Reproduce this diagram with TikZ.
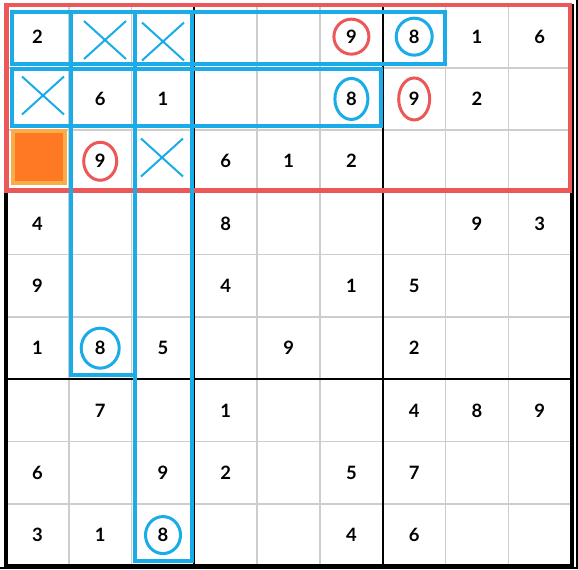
\documentclass[tikz,border=0pt]{standalone}
\usepackage{fontspec}
\setmainfont{Lato}
\usetikzlibrary{shapes.geometric,shapes.misc}
\definecolor{gridgray}{RGB}{205,205,205}
\definecolor{markblue}{RGB}{26,172,232}
\definecolor{boxred}{RGB}{236,88,88}
\definecolor{orangefill}{RGB}{255,120,35}
\definecolor{orangeedge}{RGB}{250,172,72}
\begin{document}
\begin{tikzpicture}[x=0.5pt,y=-0.5pt,
  digit/.style={font=\fontsize{9.2}{10}\selectfont\bfseries, inner sep=0pt},
  ring/.style={digit, ellipse, line width=1.5pt},
  redring/.style={ring, draw=boxred},
  bluering/.style={ring, draw=markblue},
  xmark/.style={cross out, draw=markblue, line width=1pt, minimum width=20pt, minimum height=18pt, inner sep=0pt},
  bluebox/.style={draw=markblue, line width=2pt},
  thin grid/.style={draw=gridgray, line width=0.75pt},
  box grid/.style={draw=black, line width=1pt},
  ]
\useasboundingbox (0,0) rectangle (578,569);
\fill[white] (0,0) rectangle (578,569);
% grid
\foreach \i in {1,2,4,5,7,8} {
  \draw[thin grid] ({6+\i*62.8},5.5) -- ({6+\i*62.8},566);
  \draw[thin grid] (6,{5.5+\i*62.3}) -- (572,{5.5+\i*62.3});
}
\foreach \i in {3,6} {
  \draw[box grid] ({6+\i*62.8},5.5) -- ({6+\i*62.8},566);
  \draw[box grid] (6,{5.5+\i*62.3}) -- (572,{5.5+\i*62.3});
}
\draw[black, line width=1.75pt] (6,5.5) rectangle (572,566);
\draw[black, line width=0.6pt] (577,0) -- (577,569);
\draw[black, line width=0.6pt] (0,568) -- (578,568);
% red region
\draw[boxred, line width=2.25pt] (6.5,5) rectangle (570,190.5);
% orange square
\node[fill=orangefill, draw=orangeedge, line width=2pt, minimum size=26pt, inner sep=0pt] (sq) at (39,156.5) {};
% blue boxes
\draw[bluebox] (12,12) rectangle (444.5,64);
\draw[bluebox] (12,69) rectangle (381,126);
\draw[bluebox] (71,12) rectangle (135,375);
\draw[bluebox] (135,12) rectangle (192,560.5);
% crosses
\node[xmark] (x12) at (105,40) {};
\node[xmark] (x13) at (163,41.5) {};
\node[xmark] (x21) at (43,95.5) {};
\node[xmark] (x33) at (162,157.5) {};
% plain digits
\foreach \r/\c/\d in {1/1/2, 1/8/1, 1/9/6,
  2/2/6, 2/3/1, 2/8/2,
  3/4/6, 3/5/1, 3/6/2,
  4/1/4, 4/4/8, 4/8/9, 4/9/3,
  5/1/9, 5/4/4, 5/6/1, 5/7/5,
  6/1/1, 6/3/5, 6/5/9, 6/7/2,
  7/2/7, 7/4/1, 7/7/4, 7/8/8, 7/9/9,
  8/1/6, 8/3/9, 8/4/2, 8/6/5, 8/7/7,
  9/1/3, 9/2/1, 9/6/4, 9/7/6} {
  \node[digit] (n\r\c) at ({6+(\c-0.5)*62.8},{5.5+(\r-0.5)*62.3}) {\d};
}
% circled digits
\node[redring, minimum width=17.5pt, minimum height=17.5pt] (n16) at ({6+5.5*62.8},{5.5+0.5*62.3}) {9};
\node[bluering, minimum width=18pt, minimum height=18.5pt] (n17) at ({6+6.5*62.8},{5.5+0.5*62.3}) {8};
\node[bluering, minimum width=16.5pt, minimum height=20.5pt] (n26) at ({6+5.5*62.8},{5.5+1.5*62.3}) {8};
\node[redring, minimum width=15.5pt, minimum height=21pt] (n27) at ({6+6.5*62.8},{5.5+1.5*62.3}) {9};
\node[redring, minimum width=16.5pt, minimum height=19pt] (n32) at ({6+1.5*62.8},{5.5+2.5*62.3}) {9};
\node[bluering, minimum width=19pt, minimum height=20pt] (n62) at ({6+1.5*62.8},{5.5+5.5*62.3}) {8};
\node[bluering, minimum width=17.5pt, minimum height=18.5pt] (n93) at ({6+2.5*62.8},{5.5+8.5*62.3}) {8};
\end{tikzpicture}
\end{document}
